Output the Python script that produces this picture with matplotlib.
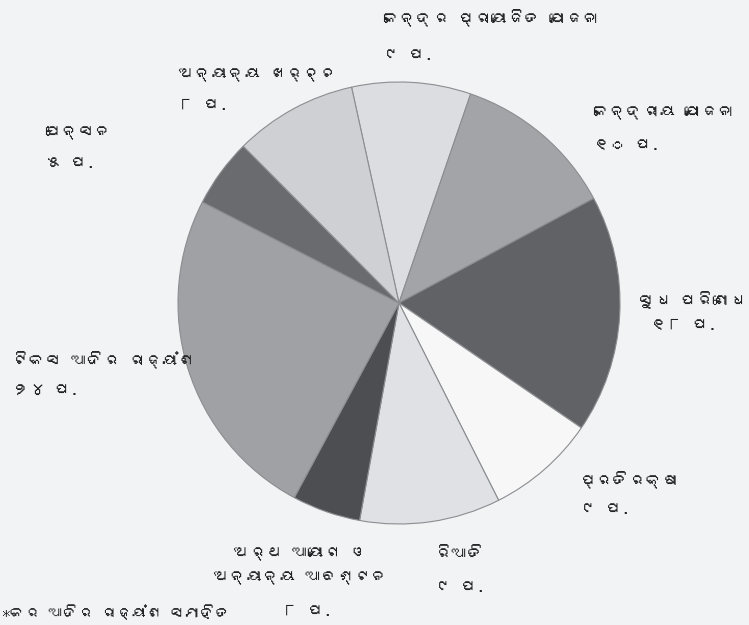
import matplotlib
matplotlib.use("Agg")
import matplotlib.pyplot as plt
from matplotlib import font_manager
from matplotlib.ft2font import FT2Font

# look for any installed font that has Odia glyphs
odia_font = None
for f in font_manager.fontManager.ttflist:
    try:
        if 0x0B15 in FT2Font(f.fname).get_charmap():
            odia_font = f.name
            break
    except Exception:
        pass
families = ([odia_font] if odia_font else []) + ['Noto Sans', 'DejaVu Sans']
plt.rcParams['font.family'] = families

labels = ['କେନ୍ଦ୍ର ପ୍ରାୟୋଜିତ ଯୋଜନା', 'କେନ୍ଦ୍ରୀୟ ଯୋଜନା', 'ସୁଧ ପରିଶୋଧ', 'ପ୍ରତିରକ୍ଷା',
          'ରିଆତି', 'ଅର୍ଥ ଆୟୋଗ ଓ\nଅନ୍ୟାନ୍ୟ ଆବଣ୍ଟନ', 'ଟିକସ ଆଦିର ରାଜ୍ୟାଂଶ', 'ପେନ୍ସନ',
          'ଅନ୍ୟାନ୍ୟ ଖର୍ଚ୍ଚ']
# slice shares as drawn in the picture (percent)
values = [8.7, 11.9, 17.4, 8.0, 10.3, 5.0, 24.7, 5.0, 9.0]
value_labels = ['୯ ପ.', '୧୦ ପ.', '୧୮ ପ.', '୯ ପ.', '୯ ପ.', '୮ ପ.', '୨୪ ପ.', '୫ ପ.', '୮ ପ.']
colors = ['#dcdde0', '#a3a4a8', '#616266', '#f7f7f8', '#e0e1e4', '#4d4e52',
          '#a0a1a5', '#6a6b6f', '#cfd0d3']
footnote = '*କର ଆଦିର ରାଜ୍ୟାଂଶ ସମାହିତ'

W, H = 749, 625
bg = '#f2f3f5'
fig = plt.figure(figsize=(W / 100, H / 100), dpi=100, facecolor=bg)
ax = fig.add_axes([0, 0, 1, 1])
ax.set_facecolor(bg)

cx, cy, r = 399, 303, 221
ax.pie(values, colors=colors, startangle=102.4, counterclock=False,
       center=(cx, H - cy), radius=r,
       wedgeprops=dict(edgecolor='#8c8d90', linewidth=0.8))
ax.set_xlim(0, W)
ax.set_ylim(0, H)
ax.set_aspect('equal')
ax.axis('off')

# label positions in pixels (x, y of name line, y of value line, alignment)
pos = [(383, 18, 55, 'left'), (593, 113, 145, 'left'), (746, 300, 325, 'right'),
       (580, 480, 510, 'left'), (435, 555, 588, 'left'), (300, 566, 612, 'center'),
       (12, 360, 390, 'left'), (45, 133, 163, 'left'), (178, 75, 105, 'left')]
for lab, val, (x, y1, y2, ha) in zip(labels, value_labels, pos):
    ax.text(x, H - y1, lab, ha=ha, va='center', fontsize=12, color='#222222',
            linespacing=1.9)
    if ha == 'center':
        vx, vha = x + 7, 'center'
    elif ha == 'right':
        vx, vha = 650, 'left'
    else:
        vx, vha = x, 'left'
    ax.text(vx, H - y2, val, ha=vha, va='center', fontsize=12, color='#222222',
            fontweight='bold')

ax.text(2, H - 612, footnote, ha='left', va='center', fontsize=11,
        style='italic', color='#222222')

fig.savefig('out.png', dpi=100, facecolor=bg)
